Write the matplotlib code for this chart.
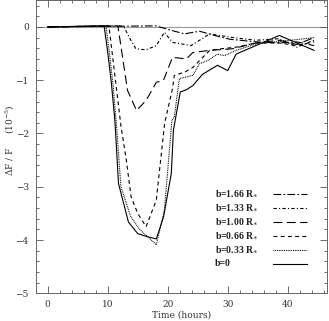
import matplotlib
matplotlib.use("Agg")
import matplotlib.pyplot as plt
from matplotlib.ticker import MultipleLocator
from matplotlib.lines import Line2D

plt.rcParams['font.family'] = ['DejaVu Serif']
plt.rcParams['mathtext.fontset'] = 'dejavuserif'

# ---- data (time in hours, dF/F in 1e-5) ----
t_b166 = [0, 18.0, 20.8, 22.8, 25.3, 27.8, 30.3, 34.7, 38.6, 41.5, 44.4]
f_b166 = [0, 0.02, -0.07, -0.13, -0.08, -0.16, -0.23, -0.28, -0.30, -0.28, -0.35]

t_b133 = [0, 12.0, 12.7, 13.9, 14.7, 16.4, 18.1, 19.45, 20.8, 23.9, 27.0, 30.3, 34.7, 38.6, 41.5, 44.4]
f_b133 = [0, 0.02, 0.0, -0.26, -0.41, -0.43, -0.35, -0.10, -0.29, -0.35, -0.13, -0.19, -0.25, -0.22, -0.38, -0.25]

t_b100 = [0, 11.7, 13.3, 14.8, 16.4, 18.1, 19.3, 20.8, 23.1, 24.2, 27.0, 30.8, 34.7, 38.6, 41.5, 44.4]
f_b100 = [0, 0.02, -1.19, -1.57, -1.38, -1.04, -1.00, -0.57, -0.60, -0.48, -0.44, -0.41, -0.30, -0.25, -0.33, -0.20]

t_b066 = [0, 10.2, 12.2, 13.1, 13.9, 15.0, 16.4, 18.1, 19.5, 20.8, 21.1, 22.8, 24.2, 25.6, 27.0, 28.9, 31.4, 34.7, 38.6, 41.5, 44.4]
f_b066 = [0, 0.02, -1.85, -2.50, -3.19, -3.50, -3.75, -3.25, -1.80, -1.16, -0.91, -0.85, -0.76, -0.60, -0.44, -0.41, -0.38, -0.30, -0.30, -0.35, -0.28]

t_b033 = [0, 9.7, 10.3, 10.9, 11.5, 12.2, 13.8, 15.3, 16.8, 18.1, 19.45, 20.7, 21.1, 21.95, 24.2, 25.3, 26.7, 28.3, 29.45, 31.4, 34.7, 39.7, 44.4]
f_b033 = [0, 0.02, -0.50, -1.10, -1.90, -3.00, -3.55, -3.80, -3.95, -4.09, -3.44, -1.75, -1.69, -0.97, -0.91, -0.69, -0.63, -0.51, -0.54, -0.44, -0.32, -0.26, -0.20]

t_b0 = [0, 9.4, 10.0, 10.6, 11.2, 11.8, 13.45, 15.0, 16.7, 18.1, 19.3, 20.6, 20.95, 22.1, 23.1, 24.2, 25.8, 28.3, 30.0, 31.4, 34.7, 38.6, 44.4]
f_b0 = [0, 0.02, -0.47, -1.04, -1.76, -2.94, -3.66, -3.88, -3.94, -3.98, -3.57, -2.75, -1.94, -1.22, -1.18, -1.10, -0.89, -0.72, -0.82, -0.51, -0.35, -0.16, -0.44]

labels = [r"b=1.66 R$_{\ast}$", r"b=1.33 R$_{\ast}$", r"b=1.00 R$_{\ast}$",
          r"b=0.66 R$_{\ast}$", r"b=0.33 R$_{\ast}$", "b=0"]
series = [(t_b166, f_b166), (t_b133, f_b133), (t_b100, f_b100),
          (t_b066, f_b066), (t_b033, f_b033), (t_b0, f_b0)]
styles = [(0, (7, 2, 1.5, 2)), (0, (3, 2, 1, 2)), (0, (8, 4)),
          (0, (3.5, 3)), (0, (0.8, 0.8)), '-']

fig = plt.figure(figsize=(3.29, 3.21), dpi=100)
ax = fig.add_axes([35.7/329, 1-293.3/321, (326.7-35.7)/329, 293.0/321])

ax.axhline(0, color='#999999', lw=0.8, zorder=1)
for (t, f), lab, ls in zip(series, labels, styles):
    ax.plot(t, f, color='black', lw=0.8, linestyle=ls, zorder=2)

ax.set_xlim(-2, 46.5)
ax.set_ylim(-5, 0.5)
ax.xaxis.set_major_locator(MultipleLocator(10))
ax.xaxis.set_minor_locator(MultipleLocator(2))
ax.yaxis.set_major_locator(MultipleLocator(1))
ax.yaxis.set_minor_locator(MultipleLocator(0.2))
ax.tick_params(which='both', direction='in', top=True, right=True,
               colors='#555555', labelcolor='#333333', labelsize=6.5, width=0.6)
ax.tick_params(which='major', length=5, pad=5)
ax.tick_params(which='minor', length=2.5)
for s in ax.spines.values():
    s.set_color('#666666')
    s.set_linewidth(0.7)

ax.set_xlabel("Time (hours)", fontsize=6.5, color='#333333', labelpad=1)
fig.text(10/329, 1-140/321, r"$\Delta$F / F     (10$^{-5}$)", rotation=90,
         ha='center', va='center', fontsize=6.5, color='#333333')

# manual legend: left-aligned labels, line samples to the right
for i, (lab, ls) in enumerate(zip(labels, styles)):
    yf = 0.339 - i * 0.0478
    ax.text(0.616, yf, lab, transform=ax.transAxes, ha='left', va='center',
            fontsize=7, fontweight='bold', family='Liberation Serif', color='#222222')
    ax.add_line(Line2D([0.815, 0.933], [yf, yf], transform=ax.transAxes,
                       color='black', lw=0.8, linestyle=ls))

fig.savefig("out.png", dpi=100)
